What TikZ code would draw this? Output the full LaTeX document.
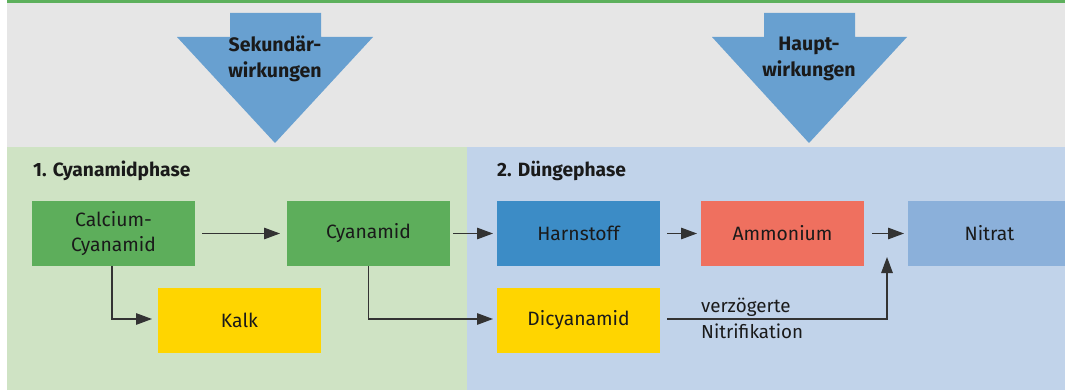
\documentclass[tikz,border=0pt]{standalone}
\usepackage{fontspec}
\setmainfont{Fira Sans}
\usetikzlibrary{arrows.meta}
\definecolor{topgreen}{HTML}{5DB05C}
\definecolor{bggrey}{HTML}{E6E6E6}
\definecolor{panelgreen}{HTML}{CFE3C4}
\definecolor{panelblue}{HTML}{C1D3EA}
\definecolor{arrowblue}{HTML}{68A0D0}
\definecolor{boxgreen}{HTML}{5DAE5B}
\definecolor{boxblue}{HTML}{3C8CC6}
\definecolor{boxred}{HTML}{EF705F}
\definecolor{boxlight}{HTML}{8BB0DA}
\definecolor{boxyellow}{HTML}{FFD500}
\definecolor{txt}{HTML}{1A1A1A}
\definecolor{linec}{HTML}{333333}
\tikzset{
  procbox/.style={minimum width=163pt, minimum height=65pt, inner sep=0pt, text=txt, font=\fontsize{19.3}{24.5}\selectfont, align=center},
  flow/.style={draw=linec, line width=1.3pt, -{Triangle[length=16pt,width=11.5pt]}},
  phasetitle/.style={anchor=base west, text=txt, font=\fontsize{19.2}{22}\selectfont\bfseries, inner sep=0pt},
  bigarrowtext/.style={text=txt, font=\fontsize{19.5}{26}\selectfont\bfseries, align=center, inner sep=0pt},
  labeltext/.style={anchor=base west, text=txt, font=\fontsize{18.8}{22}\selectfont, inner sep=0pt}
}
\begin{document}
\begin{tikzpicture}[x=1pt,y=-1pt]
\useasboundingbox (0,0) rectangle (1065,390);
\clip (0,0) rectangle (1065,390);
% backgrounds
\fill[bggrey] (7,0) rectangle (1065,147);
\fill[topgreen] (7,0) rectangle (1065,3.5);
\fill[panelgreen] (7,147) rectangle (467,390);
\fill[panelblue] (467,147) rectangle (1065,390);
% big arrows
\fill[arrowblue] (230,13) -- (321,13) -- (321,37) -- (373,37) -- (275,143) -- (177,37) -- (230,37) -- cycle;
\fill[arrowblue] (764,13) -- (855,13) -- (855,37) -- (907,37) -- (809,143) -- (712,37) -- (764,37) -- cycle;
\node[bigarrowtext] (sek) at (275,59) {Sekundär-\\wirkungen};
\node[bigarrowtext] (haupt) at (809,59) {Haupt-\\wirkungen};
% titles
\node[phasetitle] (t1) at (33,177) {1. Cyanamidphase};
\node[phasetitle] (t2) at (497,177) {2. Düngephase};
% boxes
\node[procbox, fill=boxgreen] (cc) at (113.5,233.5) {Calcium-\\Cyanamid};
\node[procbox, fill=boxgreen] (cy) at (368.5,233.5) {Cyanamid};
\node[procbox, fill=boxyellow] (ka) at (239.5,320.5) {Kalk};
\node[procbox, fill=boxblue] (ha) at (578.5,233.5) {Harnstoff};
\node[procbox, fill=boxred] (am) at (782.5,233.5) {Ammonium};
\node[procbox, fill=boxlight] (ni) at (989.5,233.5) {Nitrat};
\node[procbox, fill=boxyellow] (di) at (578.5,320.5) {Dicyanamid};
% connector coordinates
\coordinate (a1s) at (202,233.5);
\coordinate (a1e) at (280,233.5);
\coordinate (a2s) at (453,233.5);
\coordinate (a2e) at (493,233.5);
\coordinate (a3s) at (667,233.5);
\coordinate (a3e) at (697,233.5);
\coordinate (a4s) at (872,233.5);
\coordinate (a4e) at (904,233.5);
\coordinate (kin) at (152,319);
\coordinate (din) at (493,319);
\coordinate (dout) at (667,319);
\coordinate (nup) at (887,257);
% connectors
\draw[flow] (a1s) -- (a1e);
\draw[flow] (a2s) -- (a2e);
\draw[flow] (a3s) -- (a3e);
\draw[flow] (a4s) -- (a4e);
\draw[flow] (cc.south -| 112,0) |- (kin);
\draw[flow] (cy.south) |- (din);
\draw[flow] (dout) -| (nup);
% label
\node[labeltext] (l1) at (701,312) {verzögerte};
\node[labeltext] (l2) at (701,338) {Nitrifikation};
\end{tikzpicture}
\end{document}
